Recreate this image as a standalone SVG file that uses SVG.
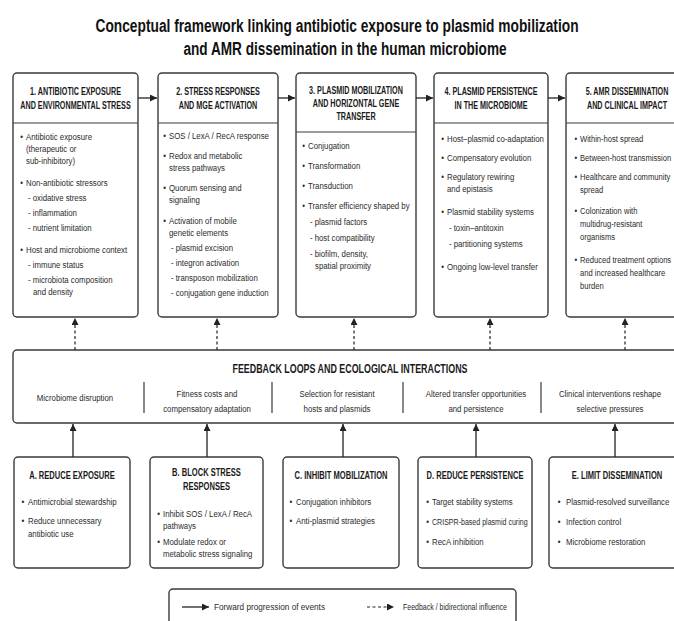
<svg xmlns="http://www.w3.org/2000/svg" width="674" height="621" viewBox="0 0 674 621">
<defs>
<marker id="ah" markerUnits="userSpaceOnUse" markerWidth="8" markerHeight="8" refX="7" refY="3.5" orient="auto"><path d="M0,0 L7,3.5 L0,7 z" fill="#222"/></marker>
<style>
.box{fill:#fff;stroke:#3a3a3a;stroke-width:1.4}
.div{stroke:#3a3a3a;stroke-width:1.2}
.t{font-family:"Liberation Sans",Arial,sans-serif;font-weight:bold;font-size:18.5px;fill:#111;text-anchor:middle}
.h{font-family:"Liberation Sans",Arial,sans-serif;font-weight:bold;font-size:11px;fill:#1a1a1a;text-anchor:middle}
.hb{font-family:"Liberation Sans",Arial,sans-serif;font-weight:bold;font-size:11.5px;fill:#1a1a1a;text-anchor:middle}
.b{font-family:"Liberation Sans",Arial,sans-serif;font-size:9.5px;fill:#2b2b2b}
.c{font-family:"Liberation Sans",Arial,sans-serif;font-size:9.5px;fill:#2b2b2b;text-anchor:middle}
.fl{font-family:"Liberation Sans",Arial,sans-serif;font-weight:bold;font-size:12px;fill:#1a1a1a;text-anchor:middle}
.sol{stroke:#222;stroke-width:1.3;fill:none}
.dsh{stroke:#222;stroke-width:1.2;fill:none;stroke-dasharray:3 2.5}
</style>
</defs>
<rect x="0" y="0" width="674" height="621" fill="#fff"/>

<g id="title">
<g transform="translate(337 32) scale(.744 1)"><text class="t" x="0" y="0">Conceptual framework linking antibiotic exposure to plasmid mobilization</text></g>
<g transform="translate(345 55) scale(.736 1)"><text class="t" x="0" y="0">and AMR dissemination in the human microbiome</text></g>
</g>

<g id="box1">
<rect class="box" x="13" y="73" width="125" height="244" rx="4"/>
<line class="div" x1="13" y1="123" x2="138" y2="123"/>
<g transform="translate(75.5 0) scale(.655 1)"><text class="h" y="95">1. ANTIBIOTIC EXPOSURE</text><text class="h" y="109">AND ENVIRONMENTAL STRESS</text></g>
<g class="b" transform="translate(26 0) scale(.824 1)">
<text x="-7" y="140">•</text><text y="140">Antibiotic exposure</text>
<text y="152">(therapeutic or</text>
<text y="164">sub-inhibitory)</text>
<text x="-7" y="186">•</text><text y="186">Non-antibiotic stressors</text>
<text x="2.3" y="201">- oxidative stress</text>
<text x="2.3" y="216">- inflammation</text>
<text x="2.3" y="231">- nutrient limitation</text>
<text x="-7" y="253">•</text><text y="253">Host and microbiome context</text>
<text x="2.3" y="268">- immune status</text>
<text x="2.3" y="283">- microbiota composition</text>
<text x="8.5" y="295">and density</text>
</g>
</g>

<g id="box2">
<rect class="box" x="158" y="73" width="120" height="244" rx="4"/>
<line class="div" x1="158" y1="123" x2="278" y2="123"/>
<g transform="translate(218 0) scale(.655 1)"><text class="h" y="95">2. STRESS RESPONSES</text><text class="h" y="109">AND MGE ACTIVATION</text></g>
<g class="b" transform="translate(169 0) scale(.824 1)">
<text x="-7" y="139">•</text><text y="139">SOS / LexA / RecA response</text>
<text x="-7" y="159">•</text><text y="159">Redox and metabolic</text>
<text y="171">stress pathways</text>
<text x="-7" y="191">•</text><text y="191">Quorum sensing and</text>
<text y="203">signaling</text>
<text x="-7" y="224">•</text><text y="224">Activation of mobile</text>
<text y="236">genetic elements</text>
<text x="2.3" y="251">- plasmid excision</text>
<text x="2.3" y="266">- integron activation</text>
<text x="2.3" y="281">- transposon mobilization</text>
<text x="2.3" y="296">- conjugation gene induction</text>
</g>
</g>

<g id="box3">
<rect class="box" x="296" y="73" width="120" height="244" rx="4"/>
<line class="div" x1="296" y1="132" x2="416" y2="132"/>
<g transform="translate(356 0) scale(.655 1)"><text class="h" y="94">3. PLASMID MOBILIZATION</text><text class="h" y="107">AND HORIZONTAL GENE</text><text class="h" y="120">TRANSFER</text></g>
<g class="b" transform="translate(308 0) scale(.824 1)">
<text x="-7" y="149">•</text><text y="149">Conjugation</text>
<text x="-7" y="169">•</text><text y="169">Transformation</text>
<text x="-7" y="189">•</text><text y="189">Transduction</text>
<text x="-7" y="209">•</text><text y="209">Transfer efficiency shaped by</text>
<text x="2.3" y="225">- plasmid factors</text>
<text x="2.3" y="241">- host compatibility</text>
<text x="2.3" y="257">- biofilm, density,</text>
<text x="8.5" y="269">spatial proximity</text>
</g>
</g>

<g id="box4">
<rect class="box" x="434" y="73" width="114" height="244" rx="4"/>
<line class="div" x1="434" y1="123" x2="548" y2="123"/>
<g transform="translate(491 0) scale(.655 1)"><text class="h" y="95">4. PLASMID PERSISTENCE</text><text class="h" y="109">IN THE MICROBIOME</text></g>
<g class="b" transform="translate(447 0) scale(.824 1)">
<text x="-7" y="142">•</text><text y="142">Host–plasmid co-adaptation</text>
<text x="-7" y="161">•</text><text y="161">Compensatory evolution</text>
<text x="-7" y="180">•</text><text y="180">Regulatory rewiring</text>
<text y="192">and epistasis</text>
<text x="-7" y="215">•</text><text y="215">Plasmid stability systems</text>
<text x="2.3" y="231">- toxin–antitoxin</text>
<text x="2.3" y="247">- partitioning systems</text>
<text x="-7" y="270">•</text><text y="270">Ongoing low-level transfer</text>
</g>
</g>

<g id="box5">
<rect class="box" x="566" y="73" width="124" height="244" rx="4"/>
<line class="div" x1="566" y1="123" x2="690" y2="123"/>
<g transform="translate(627 0) scale(.655 1)"><text class="h" y="95">5. AMR DISSEMINATION</text><text class="h" y="109">AND CLINICAL IMPACT</text></g>
<g class="b" transform="translate(580 0) scale(.8 1)">
<text x="-7" y="142">•</text><text y="142">Within-host spread</text>
<text x="-7" y="161">•</text><text y="161">Between-host transmission</text>
<text x="-7" y="180">•</text><text y="180">Healthcare and community</text>
<text y="193">spread</text>
<text x="-7" y="214">•</text><text y="214">Colonization with</text>
<text y="227">multidrug-resistant</text>
<text y="240">organisms</text>
<text x="-7" y="263">•</text><text y="263">Reduced treatment options</text>
<text y="276">and increased healthcare</text>
<text y="289">burden</text>
</g>
</g>

<g id="feedback">
<rect class="box" x="13" y="350" width="680" height="73" rx="4"/>
<text class="fl" x="350" y="373" textLength="235" lengthAdjust="spacingAndGlyphs">FEEDBACK LOOPS AND ECOLOGICAL INTERACTIONS</text>
<line class="div" x1="144" y1="382" x2="144" y2="413"/>
<line class="div" x1="272" y1="382" x2="272" y2="413"/>
<line class="div" x1="403" y1="382" x2="403" y2="413"/>
<line class="div" x1="541" y1="382" x2="541" y2="413"/>
<g transform="translate(75 0) scale(.824 1)"><text class="c" y="401">Microbiome disruption</text></g>
<g transform="translate(207 0) scale(.824 1)"><text class="c" y="397">Fitness costs and</text><text class="c" y="412">compensatory adaptation</text></g>
<g transform="translate(337 0) scale(.824 1)"><text class="c" y="397">Selection for resistant</text><text class="c" y="412">hosts and plasmids</text></g>
<g transform="translate(476 0) scale(.824 1)"><text class="c" y="397">Altered transfer opportunities</text><text class="c" y="412">and persistence</text></g>
<g transform="translate(610 0) scale(.824 1)"><text class="c" y="397">Clinical interventions reshape</text><text class="c" y="412">selective pressures</text></g>
</g>

<g id="boxA">
<rect class="box" x="14" y="457" width="116" height="111" rx="4"/>
<g transform="translate(72 0) scale(.657 1)"><text class="hb" y="479">A. REDUCE EXPOSURE</text></g>
<g class="b" transform="translate(28 0) scale(.824 1)">
<text x="-8" y="505">•</text><text y="505">Antimicrobial stewardship</text>
<text x="-8" y="524">•</text><text y="524">Reduce unnecessary</text>
<text y="537">antibiotic use</text>
</g>
</g>

<g id="boxB">
<rect class="box" x="150" y="457" width="113" height="111" rx="4"/>
<g transform="translate(206.5 0) scale(.657 1)"><text class="hb" y="476">B. BLOCK STRESS</text><text class="hb" y="490">RESPONSES</text></g>
<g class="b" transform="translate(163 0) scale(.824 1)">
<text x="-7" y="517">•</text><text y="517">Inhibit SOS / LexA / RecA</text>
<text y="529">pathways</text>
<text x="-7" y="545">•</text><text y="545">Modulate redox or</text>
<text y="557">metabolic stress signaling</text>
</g>
</g>

<g id="boxC">
<rect class="box" x="283" y="457" width="116" height="111" rx="4"/>
<g transform="translate(341 0) scale(.657 1)"><text class="hb" y="479">C. INHIBIT MOBILIZATION</text></g>
<g class="b" transform="translate(296 0) scale(.824 1)">
<text x="-8" y="505">•</text><text y="505">Conjugation inhibitors</text>
<text x="-8" y="524">•</text><text y="524">Anti-plasmid strategies</text>
</g>
</g>

<g id="boxD">
<rect class="box" x="418" y="457" width="114" height="111" rx="4"/>
<g transform="translate(475 0) scale(.657 1)"><text class="hb" y="479">D. REDUCE PERSISTENCE</text></g>
<g class="b" transform="translate(432 0) scale(.824 1)">
<text x="-7" y="505">•</text><text y="505">Target stability systems</text>
<text x="-7" y="525">•</text><text y="525" textLength="116" lengthAdjust="spacingAndGlyphs">CRISPR-based plasmid curing</text>
<text x="-7" y="545">•</text><text y="545">RecA inhibition</text>
</g>
</g>

<g id="boxE">
<rect class="box" x="549" y="457" width="136" height="111" rx="4"/>
<g transform="translate(617 0) scale(.657 1)"><text class="hb" y="479">E. LIMIT DISSEMINATION</text></g>
<g class="b" transform="translate(566 0) scale(.824 1)">
<text x="-10" y="505">•</text><text y="505">Plasmid-resolved surveillance</text>
<text x="-10" y="525">•</text><text y="525">Infection control</text>
<text x="-10" y="545">•</text><text y="545">Microbiome restoration</text>
</g>
</g>

<g id="connectors">
<line class="sol" x1="138" y1="98" x2="157" y2="98" marker-end="url(#ah)"/>
<line class="sol" x1="278" y1="98" x2="295" y2="98" marker-end="url(#ah)"/>
<line class="sol" x1="416" y1="98" x2="433" y2="98" marker-end="url(#ah)"/>
<line class="sol" x1="548" y1="98" x2="565" y2="98" marker-end="url(#ah)"/>
<line class="dsh" x1="75" y1="350" x2="75" y2="318" marker-end="url(#ah)"/>
<line class="dsh" x1="217" y1="350" x2="217" y2="318" marker-end="url(#ah)"/>
<line class="dsh" x1="354" y1="350" x2="354" y2="318" marker-end="url(#ah)"/>
<line class="dsh" x1="490" y1="350" x2="490" y2="318" marker-end="url(#ah)"/>
<line class="dsh" x1="625" y1="350" x2="625" y2="318" marker-end="url(#ah)"/>
<line class="sol" x1="73" y1="457" x2="73" y2="424" marker-end="url(#ah)"/>
<line class="sol" x1="207" y1="457" x2="207" y2="424" marker-end="url(#ah)"/>
<line class="sol" x1="343" y1="457" x2="343" y2="424" marker-end="url(#ah)"/>
<line class="sol" x1="476" y1="457" x2="476" y2="424" marker-end="url(#ah)"/>
<line class="sol" x1="615" y1="457" x2="615" y2="424" marker-end="url(#ah)"/>
</g>

<g id="legend">
<rect class="box" x="169" y="589" width="347" height="50" rx="4"/>
<line class="sol" x1="182" y1="607" x2="209" y2="607" marker-end="url(#ah)"/>
<text class="b" x="214" y="610" textLength="111" lengthAdjust="spacingAndGlyphs">Forward progression of events</text>
<line class="dsh" x1="367" y1="607" x2="394" y2="607" marker-end="url(#ah)"/>
<text class="b" x="403" y="610" textLength="104" lengthAdjust="spacingAndGlyphs">Feedback / bidirectional influence</text>
</g>
</svg>
